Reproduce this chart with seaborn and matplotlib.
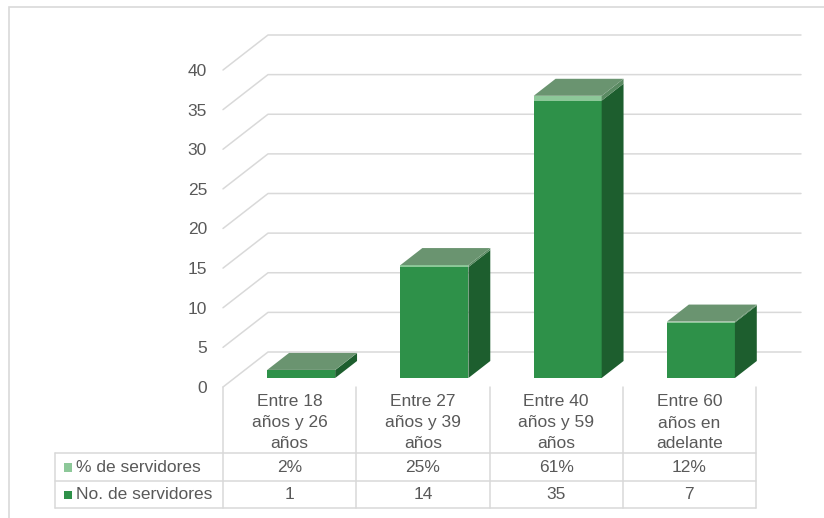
import matplotlib
matplotlib.use("Agg")
import matplotlib.pyplot as plt
import matplotlib.transforms as mtransforms
from matplotlib.patches import Polygon, Rectangle
from matplotlib.lines import Line2D
import seaborn as sns
import pandas as pd

# ---- data -------------------------------------------------------------
categories = [
    "Entre 18\naños y 26\naños",
    "Entre 27\naños y 39\naños",
    "Entre 40\naños y 59\naños",
    "Entre 60\naños en\nadelante",
]
servidores = [1, 14, 35, 7]                 # No. de servidores
porcentaje = [0.02, 0.25, 0.61, 0.12]       # % de servidores (fraction)
series_names = ["% de servidores", "No. de servidores"]
y_ticks = [0, 5, 10, 15, 20, 25, 30, 35, 40]

# ---- style ------------------------------------------------------------
W, H = 824, 518
sns.set_theme(style="white")
plt.rcParams["font.family"] = ["Liberation Sans", "DejaVu Sans"]

C_FRONT_N = "#2e9149"
C_SIDE_N = "#1d5e2e"
C_FRONT_P = "#8dc899"
C_SIDE_P = "#5a8a62"
C_TOP = "#6a9470"
C_GRID = "#d9d9d9"
C_TEXT = "#595959"
FS = 12.5

fig = plt.figure(figsize=(W / 100, H / 100), dpi=100)
fig.patch.set_facecolor("white")


def fx(px):
    return px / W


def fy(py):
    return 1 - py / H


# front plane of the 3-D box
PL, PR, PT, PB = 223, 756, 70, 387
ax = fig.add_axes([fx(PL), fy(PB), fx(PR) - fx(PL), fy(PT) - fy(PB)])
ax.set_facecolor("none")

df = pd.DataFrame({"cat": categories, "n": servidores, "p": porcentaje})

sns.barplot(data=df, x="cat", y="n", order=categories, color=C_FRONT_N,
            saturation=1, width=0.51, linewidth=0, ax=ax)
n_bars = list(ax.patches)
sns.barplot(data=df, x="cat", y="p", order=categories, color=C_FRONT_P,
            saturation=1, width=0.51, linewidth=0, bottom=df["n"].values, ax=ax)
p_bars = [b for b in ax.patches if b not in n_bars]

ax.set_xlim(-0.5, len(categories) - 0.5)
ax.set_ylim(0, 40)
ax.set_xlabel("")
ax.set_ylabel("")
ax.set_xticks([])
ax.set_yticks(y_ticks)
ax.set_yticklabels([str(t) for t in y_ticks])
ax.tick_params(axis="y", length=0, pad=11.5, labelsize=FS, labelcolor=C_TEXT)
for s in ax.spines.values():
    s.set_visible(False)

# depth of the box in data units
px_x = (PR - PL) / len(categories)
px_y = (PB - PT) / 40
DX, DY = 45 / px_x, 35 / px_y

# walls: slanted side gridlines and back-wall gridlines
for t in y_ticks:
    ax.plot([-0.5, -0.5 + DX, len(categories) - 0.5 + DX], [t, t + DY, t + DY],
            color=C_GRID, lw=1.1, clip_on=False, zorder=0.5)

# bars sit in the middle of the floor depth
sx, sy = 0.257 * DX, 0.257 * DY
ddx, ddy = 0.486 * DX, 0.486 * DY
shift = mtransforms.Affine2D().translate(sx, sy) + ax.transData

for group, side_col in ((n_bars, C_SIDE_N), (p_bars, C_SIDE_P)):
    for b in group:
        b.set_transform(shift)
        b.set_clip_on(False)
        b.set_zorder(2)
        x0, y0, w, h = b.get_x(), b.get_y(), b.get_width(), b.get_height()
        ax.add_patch(Polygon([(x0 + w, y0), (x0 + w + ddx, y0 + ddy),
                              (x0 + w + ddx, y0 + h + ddy), (x0 + w, y0 + h)],
                             closed=True, facecolor=side_col, edgecolor="none",
                             transform=shift, clip_on=False, zorder=2))

for b in p_bars:
    x0, w = b.get_x(), b.get_width()
    y1 = b.get_y() + b.get_height()
    ax.add_patch(Polygon([(x0, y1), (x0 + w, y1), (x0 + w + ddx, y1 + ddy),
                          (x0 + ddx, y1 + ddy)],
                         closed=True, facecolor=C_TOP, edgecolor="none",
                         transform=shift, clip_on=False, zorder=2.1))

# ---- data table -------------------------------------------------------
def fline(x0, y0, x1, y1):
    fig.add_artist(Line2D([fx(x0), fx(x1)], [fy(y0), fy(y1)],
                          transform=fig.transFigure, color=C_GRID, lw=1.1))


col_edges = [ax.transData.transform((i - 0.5, 0))[0] for i in range(len(categories) + 1)]
KEY_L = 55
ROW_TOPS = [453, 481, 508]
for yr in ROW_TOPS:
    fline(KEY_L, yr, col_edges[-1], yr)
fline(KEY_L, ROW_TOPS[0], KEY_L, ROW_TOPS[-1])
for xe in col_edges:
    fline(xe, PB, xe, ROW_TOPS[-1])

line_y = [402, 423, 444]
for i, cat in enumerate(categories):
    cx = (col_edges[i] + col_edges[i + 1]) / 2
    for ly, part in zip(line_y, cat.split("\n")):
        fig.text(fx(cx), fy(ly), part, ha="center", va="center",
                 fontsize=FS, color=C_TEXT)
    fig.text(fx(cx), fy(467), f"{round(porcentaje[i] * 100)}%", ha="center",
             va="center", fontsize=FS, color=C_TEXT)
    fig.text(fx(cx), fy(494.5), str(servidores[i]), ha="center", va="center",
             fontsize=FS, color=C_TEXT)

for name, col, yc in zip(series_names, [C_FRONT_P, C_FRONT_N], [467, 494.5]):
    fig.add_artist(Rectangle((fx(64), fy(yc + 4.5)), fx(8.5), 8.5 / H,
                             transform=fig.transFigure, facecolor=col,
                             edgecolor="none"))
    fig.text(fx(76.5), fy(yc), name, ha="left", va="center", fontsize=FS,
             color=C_TEXT)

# chart frame
fig.add_artist(Rectangle((fx(8.5), fy(H + 20)), fx(W + 20), (H + 20 - 6.5) / H,
                         transform=fig.transFigure, facecolor="none",
                         edgecolor=C_GRID, lw=1.2))

fig.savefig("out.png", dpi=100, facecolor="white")
